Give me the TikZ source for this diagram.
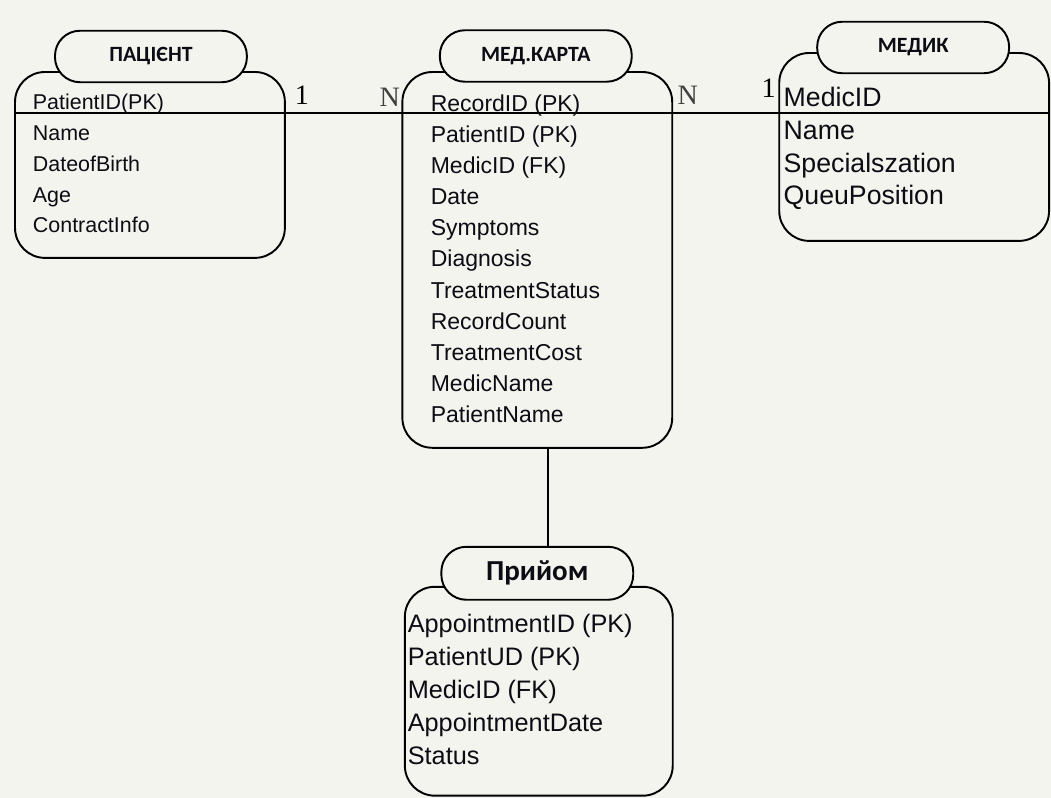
\documentclass[tikz,border=0pt]{standalone}
\usepackage{fontspec}
\setmainfont{Liberation Sans}
\newfontfamily\headfont{Carlito}
\newfontfamily\multfont{Liberation Serif}
\usetikzlibrary{positioning}
\definecolor{paper}{RGB}{244,244,239}
\definecolor{ink}{RGB}{12,12,20}

\begin{document}
\begin{tikzpicture}[
		x=0.02cm, y=-0.02cm, line width=1.1pt,
		entity/.style={draw, fill=paper, rounded corners=0.6cm, minimum width=5.4cm},
		heading/.style={draw, fill=paper, rounded corners=0.5cm, minimum width=3.84cm, minimum height=1.03cm, text=ink, font=\headfont\bfseries\fontsize{12.4}{14}\selectfont},
		fields/.style={anchor=base west, align=left, inner sep=0pt, text=ink},
		mult/.style={anchor=base, inner sep=0pt, font=\multfont\fontsize{16}{18}\selectfont},
		link/.style={line width=1.1pt}
		]
		
		% --- page ---
		\fill[paper] (0,0) rectangle (1051,798);
		
		% --- 1. Entity bodies ---
		\node[entity, minimum height=3.72cm] (patient) at (150,165) {};
		\node[entity, minimum height=7.52cm] (card) at (537.5,260) {};
		\node[entity, minimum height=3.76cm] (medic) at (914.5,147) {};
		\node[entity, minimum height=4.18cm, minimum width=5.36cm] (visit) at (539,691.5) {};
		
		% key line through the first rows
		\coordinate (sep) at (0,113.5);
		\draw[link] (patient.west |- sep) -- (medic.east |- sep);
		
		% link card -> appointment
		\coordinate (jx) at (548,0);
		
		% --- 2. Titles ---
		\node[heading] (patientTitle) at (151,56.5) {ПАЦІЄНТ};
		\node[heading] (cardTitle) at (536,56) {МЕД.КАРТА};
		\node[heading] (medicTitle) at (913.5,47.5) {МЕДИК};
		\node[heading, minimum height=1.06cm, font=\headfont\bfseries\fontsize{16.5}{18}\selectfont] (visitTitle) at (537.5,573.5) {Прийом};
		
		\draw[link] (card.south -| jx) -- (visitTitle.north -| jx);
		
		% --- 3. Attributes (anchored at the last baseline) ---
		\node[fields, font=\fontsize{12.2}{17.6}\selectfont] (patientFields) at (32,233) {
			PatientID(PK)\\ Name\\ DateofBirth\\ Age\\ ContractInfo};
		\node[fields, font=\fontsize{13.1}{17.75}\selectfont] (cardFields) at (430,423) {
			RecordID (PK)\\ PatientID (PK)\\ MedicID (FK)\\ Date\\ Symptoms\\ Diagnosis\\
			TreatmentStatus\\ RecordCount\\ TreatmentCost\\ MedicName\\ PatientName};
		\node[fields, font=\fontsize{15.2}{18.67}\selectfont] (medicFields) at (783,205) {
			MedicID\\ Name\\ Specialszation\\ QueuPosition};
		\node[fields, font=\fontsize{14.4}{18.78}\selectfont] (visitFields) at (407,765) {
			AppointmentID (PK)\\ PatientUD (PK)\\ MedicID (FK)\\ AppointmentDate\\ Status};
		
		% --- 4. Cardinalities ---
		\node[mult] (m1) at (302,105) {1};
		\node[mult, text=black!75] (m2) at (390,107) {N};
		\node[mult, text=black!75] (m3) at (688,105) {N};
		\node[mult] (m4) at (769,98) {1};
		
	\end{tikzpicture}
\end{document}
